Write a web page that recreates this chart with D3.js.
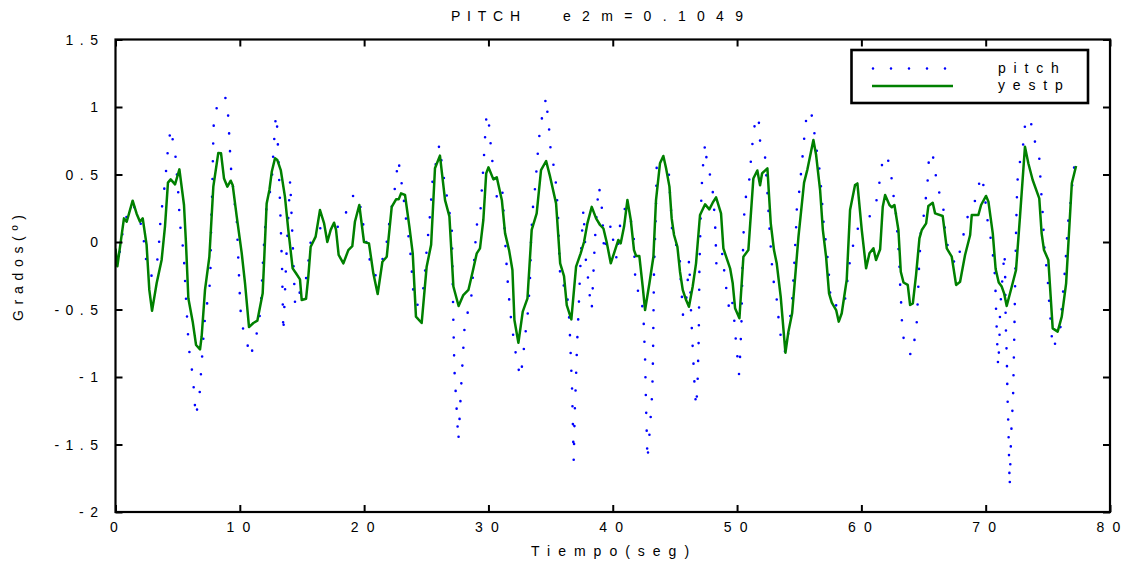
<!DOCTYPE html>
<html>
<head>
<meta charset="utf-8">
<script src="https://cdn.jsdelivr.net/npm/d3@7/dist/d3.min.js"></script>
<style>
  html, body { margin: 0; padding: 0; background: #fff; }
  svg text { font-family: "Liberation Sans", Arial, sans-serif; fill: #000; white-space: pre; }
</style>
</head>
<body>
<svg id="chart" width="1131" height="565"></svg>
<script>
// ---------------- data ----------------
const xTicks = [0, 10, 20, 30, 40, 50, 60, 70, 80];
const yTicks = [-2, -1.5, -1, -0.5, 0, 0.5, 1, 1.5];
const xTickLabels = ["0", "10", "20", "30", "40", "50", "60", "70", "80"];
const yTickLabels = ["-2", "-1.5", "-1", "-0.5", "0", "0.5", "1", "1.5"];
const seriesNames = ["pitch", "yestp"];
const titleParts = ["PITCH", "e2m=0.1049"];
const xLabel = "Tiempo(seg)";
const yLabel = "Grados(º)";

const pitchT = [0,0.2,0.7,1.4,1.9,2.16,2.35,2.51,2.9,3.23,3.45,3.63,3.98,4.22,4.44,4.81,5.03,5.19,5.38,5.51,5.65,5.81,5.89,6.1,6.26,6.45,6.74,6.93,7.12,7.25,7.52,7.63,7.7,7.79,7.87,7.92,8.22,8.6,8.81,9.05,9.13,9.27,9.43,9.56,9.75,9.86,10.04,10.15,10.55,10.82,11.2,11.49,11.68,11.89,12.08,12.16,12.54,12.7,12.9,12.97,13.1,13.25,13.4,13.5,13.75,14.05,14.25,14.45,14.7,15.2,15.55,15.7,16.4,17.4,18.0,18.6,19.2,19.8,19.95,20.2,20.47,20.9,21.36,21.76,21.95,22.14,22.41,22.57,22.76,22.94,23.16,23.29,23.5,23.69,23.91,24.0,24.25,24.5,24.82,25.03,25.3,25.51,25.79,26.05,26.37,26.83,27.05,27.1,27.18,27.26,27.42,27.58,27.66,27.8,27.96,28.1,28.3,28.57,28.68,28.79,28.9,29.0,29.11,29.32,29.4,29.59,29.75,29.85,30.07,30.18,30.32,30.67,31.1,31.26,31.41,31.6,31.87,32.09,32.27,32.57,32.76,32.89,33.05,33.21,33.29,33.37,33.43,33.61,33.78,33.88,33.99,34.12,34.34,34.64,34.74,34.88,34.98,35.22,35.41,35.52,35.6,35.71,35.81,36.3,36.38,36.51,36.62,36.73,36.78,36.86,36.94,37.04,37.13,37.26,37.37,37.5,37.64,37.72,37.85,38.04,38.17,38.31,38.44,38.57,38.76,38.88,39.09,39.25,39.3,39.6,39.87,40.05,40.32,40.51,40.64,41.04,41.45,41.69,41.79,41.85,42.28,42.49,42.6,42.68,42.79,42.89,43.0,43.18,43.24,43.27,43.32,43.46,43.54,43.7,44.2,44.5,44.55,44.66,44.8,45.07,45.28,45.41,45.47,45.57,45.65,45.95,46.14,46.22,46.3,46.43,46.57,46.7,46.81,46.92,46.97,47.08,47.19,47.29,47.43,47.56,47.88,48.09,48.26,48.34,48.55,48.82,49.0,49.17,49.38,49.6,49.78,49.89,50.02,50.16,50.24,50.35,50.43,50.56,50.62,50.94,51.18,51.32,51.53,51.77,51.85,52.25,52.44,52.6,52.79,52.92,53.17,53.3,53.46,53.67,53.85,54.15,54.45,54.61,54.75,54.8,54.99,55.13,55.26,55.39,55.5,55.93,56.17,56.33,56.57,56.71,56.82,56.9,57.05,57.22,57.35,57.54,57.9,58.2,58.63,58.82,58.95,59.22,59.49,59.84,60.46,61.1,61.34,61.56,61.75,61.9,62.15,62.42,62.58,62.77,62.98,63.06,63.11,63.19,63.25,63.33,63.7,64.05,64.32,64.48,64.53,64.59,64.64,64.72,64.78,65.04,65.2,65.34,65.42,65.7,65.93,66.12,66.55,66.68,66.74,67.08,67.48,67.72,67.98,68.28,68.6,69.0,69.36,69.55,69.73,69.9,70.08,70.22,70.49,70.62,70.76,70.84,70.94,71.0,71.1,71.16,71.32,71.51,71.56,71.61,71.7,71.75,71.83,71.93,72.05,72.2,72.3,72.38,72.45,72.5,72.6,72.93,73.09,73.2,73.4,73.63,73.9,74.3,74.38,74.46,74.56,74.64,74.69,74.83,74.99,75.07,75.18,75.39,75.98,76.17,76.31,76.41,76.52,76.57,76.92,77.0,77.24];
const pitchV = [-0.12,-0.16,0.15,0.28,0.18,0.09,-0.04,-0.17,-0.25,-0.207,-0.084,0.178,0.435,0.69,0.84,0.654,0.393,0.13,0.0,-0.126,-0.385,-0.647,-0.78,-0.91,-1.04,-1.29,-1.16,-0.9,-0.64,-0.51,-0.385,-0.25,0.14,0.4,0.785,0.916,1.02,1.06,1.084,0.953,0.822,0.563,0.432,0.304,0.175,-0.086,-0.48,-0.607,-0.73,-0.85,-0.75,-0.617,-0.494,-0.096,0.163,0.289,0.405,0.664,0.94,0.92,0.64,0.25,-0.2,-0.67,-0.1,0.46,0.0,-0.47,-0.38,-0.36,-0.12,0.0,0.1,0.12,0.11,0.23,0.36,0.24,0.11,-0.015,-0.14,-0.25,-0.165,-0.04,0.09,0.22,0.35,0.48,0.61,0.48,0.35,0.22,0.09,-0.04,-0.3,-0.43,-0.47,-0.44,-0.32,-0.06,0.2,0.46,0.59,0.72,0.5,0.24,0.11,-0.15,-0.6,-0.94,-1.2,-1.47,-1.34,-1.08,-0.82,-0.6,-0.53,-0.467,-0.336,-0.207,-0.079,0.06,0.158,0.168,0.294,0.553,0.81,0.95,0.854,0.723,0.595,0.336,0.41,0.158,-0.1,-0.36,-0.62,-0.75,-0.88,-1.0,-0.88,-0.75,-0.617,-0.49,-0.356,-0.227,0.04,0.294,0.422,0.553,0.68,0.81,0.94,1.07,0.965,0.835,0.706,0.578,0.452,0.318,0.188,-0.13,-0.326,-0.318,-0.447,-0.578,-0.84,-1.096,-1.3,-1.62,-1.27,-1.02,-0.756,-0.494,-0.23,0.025,0.24,0.1,-0.158,-0.286,-0.417,-0.5,-0.24,0.02,0.284,0.415,0.3,0.047,-0.077,0.057,0.13,0.0,-0.128,0.047,0.175,0.26,0.163,0.04,-0.225,-0.356,-0.368,-0.6,-0.86,-1.22,-1.61,-1.5,-1.37,-1.11,-0.85,-0.59,-0.2,0.188,0.583,0.64,0.6,0.553,0.42,0.294,0.04,-0.02,-0.03,-0.15,-0.28,-0.415,-0.54,-0.4,-0.13,-0.3,-0.523,-0.78,-1.04,-1.22,-1.09,-0.7,-0.2,0.212,0.474,0.6,0.73,0.6,0.474,0.343,0.084,-0.175,-0.18,-0.084,-0.244,-0.373,-0.504,-0.43,-0.585,-0.714,-0.842,-0.98,-0.85,-0.62,-0.2,0.163,0.3,0.417,0.674,0.805,0.933,0.88,0.748,0.632,0.373,0.114,-0.15,-0.28,-0.405,-0.533,-0.664,-0.795,-0.81,-0.66,-0.41,-0.153,0.109,0.237,0.365,0.496,0.625,0.756,0.886,0.978,0.85,0.718,0.59,0.459,0.33,0.2,0.07,-0.06,-0.19,-0.447,-0.48,-0.435,-0.462,-0.338,-0.207,-0.08,0.05,0.126,0.163,0.247,0.373,0.504,0.632,0.645,0.607,0.479,0.348,0.22,-0.04,-0.17,-0.3,-0.435,-0.563,-0.69,-0.807,-0.84,-0.7,-0.573,-0.44,-0.31,-0.18,-0.054,0.077,0.207,0.336,0.464,0.595,0.67,0.533,0.405,0.29,0.163,0.035,-0.067,-0.15,-0.168,-0.04,0.08,0.207,0.274,0.356,0.484,0.484,0.356,0.225,0.096,-0.005,-0.133,-0.262,-0.52,-0.78,-0.92,-0.75,-0.5,-0.3,-0.079,-0.207,-0.6,-0.86,-1.126,-1.385,-1.81,-1.42,-1.16,-0.7,-0.245,0.1,0.3,0.533,0.66,0.78,0.91,0.92,0.89,0.763,0.64,0.508,0.38,0.25,0.12,-0.01,-0.14,-0.27,-0.4,-0.53,-0.79,-0.676,-0.42,-0.294,-0.158,-0.03,0.1,0.36,0.49,0.62];

const yestpT = [0,0.15,0.68,0.9,1.38,1.7,1.97,2.19,2.5,2.72,2.94,3.31,3.71,3.98,4.22,4.44,4.79,5.14,5.51,5.67,5.86,6.21,6.48,6.8,6.93,7.2,7.55,7.87,8.27,8.49,8.73,9.0,9.27,9.43,9.75,10.15,10.42,10.74,11.09,11.41,11.84,12.16,12.38,12.57,12.83,13.02,13.3,13.63,13.9,14.25,14.52,14.84,14.98,15.33,15.51,15.7,16.1,16.45,16.78,17.04,17.31,17.58,17.74,17.95,18.33,18.73,19.05,19.26,19.61,19.99,20.39,20.74,21.09,21.47,21.82,22.22,22.57,22.78,22.97,23.29,23.64,23.91,24.17,24.63,25.03,25.39,25.7,26.1,26.51,26.86,27.18,27.6,27.98,28.39,28.73,29.06,29.32,29.59,29.82,30.0,30.4,30.67,31.08,31.34,31.66,31.93,32.09,32.41,32.76,33.14,33.48,33.88,34.23,34.64,34.96,35.44,35.77,36.08,36.3,36.67,37.05,37.42,37.69,37.96,38.31,38.66,38.98,39.25,39.51,39.84,40.1,40.45,40.64,40.91,41.18,41.45,41.71,41.88,42.14,42.41,42.6,42.95,43.27,43.48,43.8,44.07,44.29,44.56,44.74,44.93,45.2,45.41,45.63,45.9,46.13,46.43,46.7,47.02,47.43,47.77,48.04,48.31,48.71,48.9,49.12,49.44,49.65,49.84,50.19,50.51,50.91,51.31,51.63,51.85,52.01,52.44,52.71,52.97,53.19,53.51,53.89,54.13,54.43,54.61,54.94,55.39,55.66,56.14,56.36,56.68,56.9,57.16,57.4,57.62,57.97,58.18,58.42,58.82,59.09,59.49,59.68,60.03,60.38,60.65,60.97,61.18,61.51,61.72,61.91,62.26,62.45,62.66,62.98,63.17,63.39,63.73,63.92,64.14,64.4,64.67,64.86,65.21,65.39,65.74,65.93,66.54,66.87,67.27,67.62,67.94,68.34,68.75,68.88,69.41,69.63,70.03,70.22,70.57,70.8,71.05,71.29,71.48,71.69,72.1,72.44,72.76,73.16,73.43,73.78,74.31,74.5,74.69,75.04,75.39,75.79,76.12,76.47,76.93,77.27];
const yestpV = [-0.05,-0.18,0.175,0.15,0.306,0.21,0.15,0.175,-0.02,-0.355,-0.51,-0.306,-0.133,0.114,0.44,0.464,0.427,0.538,0.274,-0.01,-0.417,-0.59,-0.763,-0.795,-0.7,-0.355,-0.11,0.41,0.66,0.657,0.47,0.41,0.454,0.42,0.19,-0.08,-0.306,-0.63,-0.6,-0.583,-0.38,0.286,0.385,0.52,0.62,0.607,0.53,0.336,0.09,-0.195,-0.232,-0.277,-0.43,-0.42,-0.257,-0.035,0.04,0.237,0.138,0.0,0.09,0.143,0.09,-0.096,-0.158,-0.06,-0.03,0.15,0.274,0.0,-0.01,-0.232,-0.385,-0.146,-0.109,0.26,0.316,0.316,0.36,0.348,0.114,-0.084,-0.553,-0.6,-0.183,-0.02,0.546,0.64,0.31,0.19,-0.33,-0.474,-0.393,-0.355,-0.22,-0.084,-0.047,0.163,0.508,0.553,0.464,0.48,0.31,0.064,-0.06,-0.207,-0.578,-0.746,-0.516,-0.417,0.09,0.212,0.533,0.6,0.484,0.286,-0.158,-0.252,-0.467,-0.573,-0.183,-0.084,0.0,0.138,0.26,0.175,0.126,0.1,0.0,-0.158,-0.084,0.015,-0.01,0.114,0.311,0.163,-0.06,-0.104,-0.104,-0.33,-0.504,-0.306,-0.109,0.311,0.583,0.637,0.546,0.41,0.175,0.052,-0.035,-0.22,-0.355,-0.43,-0.48,-0.33,-0.158,0.2,0.279,0.242,0.291,0.331,0.212,-0.047,-0.109,-0.195,-0.306,-0.49,-0.565,-0.109,-0.06,0.47,0.53,0.42,0.508,0.546,0.138,-0.06,-0.158,-0.405,-0.82,-0.664,-0.528,-0.33,0.04,0.44,0.538,0.756,0.644,0.385,0.09,-0.109,-0.38,-0.449,-0.504,-0.59,-0.528,-0.281,0.237,0.422,0.434,0.089,-0.195,-0.084,-0.047,-0.133,-0.054,0.262,0.348,0.274,0.257,0.274,0.089,-0.22,-0.3,-0.318,-0.467,-0.455,-0.244,0.027,0.089,0.138,0.267,0.291,0.212,0.193,-0.047,-0.109,-0.318,-0.294,-0.096,0.052,0.2,0.2,0.274,0.341,0.299,0.064,-0.2,-0.3,-0.33,-0.38,-0.474,-0.33,-0.207,0.188,0.706,0.583,0.459,0.323,0.064,-0.059,-0.133,-0.64,-0.664,-0.553,-0.306,0.435,0.563];

// ---------------- layout ----------------
const plot = { left: 115.5, right: 1110, top: 39.5, bottom: 512 };
const svg = d3.select("#chart");

const x = d3.scaleLinear().domain([0, 80]).range([plot.left, plot.right]);
const y = d3.scaleLinear().domain([-2, 1.5]).range([plot.bottom, plot.top]);

const fontSize = 14;

svg.append("defs").append("clipPath").attr("id", "clip")
  .append("rect").attr("x", plot.left).attr("y", plot.top)
  .attr("width", plot.right - plot.left).attr("height", plot.bottom - plot.top);

// series
const pitchData = pitchT.map((t, i) => [t, pitchV[i]]);
const yestpData = yestpT.map((t, i) => [t, yestpV[i]]);
const line = d3.line().x(d => x(d[0])).y(d => y(d[1]));

const g = svg.append("g").attr("clip-path", "url(#clip)");
g.append("path").datum(pitchData).attr("d", line)
  .attr("fill", "none").attr("stroke", "#0000ff").attr("stroke-width", 2.6)
  .attr("stroke-linecap", "round").attr("stroke-dasharray", "0 17.8");
g.append("path").datum(yestpData).attr("d", line)
  .attr("fill", "none").attr("stroke", "#008000").attr("stroke-width", 2.5)
  .attr("stroke-linejoin", "round");

// axes (ticks inward on all four sides)
const tickLen = 7;
const axB = svg.append("g").attr("transform", `translate(0,${plot.bottom})`)
  .call(d3.axisBottom(x).tickValues(xTicks).tickSize(-tickLen).tickFormat(""));
const axT = svg.append("g").attr("transform", `translate(0,${plot.top})`)
  .call(d3.axisTop(x).tickValues(xTicks).tickSize(-tickLen).tickFormat(""));
const axL = svg.append("g").attr("transform", `translate(${plot.left},0)`)
  .call(d3.axisLeft(y).tickValues(yTicks).tickSize(-tickLen).tickFormat(""));
const axR = svg.append("g").attr("transform", `translate(${plot.right},0)`)
  .call(d3.axisRight(y).tickValues(yTicks).tickSize(-tickLen).tickFormat(""));
[axB, axT, axL, axR].forEach(a => {
  a.select(".domain").remove();
  a.selectAll(".tick line").attr("stroke", "#000").attr("stroke-width", 2);
});
svg.append("rect").attr("x", plot.left).attr("y", plot.top)
  .attr("width", plot.right - plot.left).attr("height", plot.bottom - plot.top)
  .attr("fill", "none").attr("stroke", "#000").attr("stroke-width", 2.2);

// tick labels
const xls = 8.2, yls = 6.5;
svg.append("g").selectAll("text").data(xTicks).join("text")
  .attr("x", d => x(d) + xls / 2 - 1.5)
  .attr("y", plot.bottom + 20)
  .attr("text-anchor", "middle")
  .attr("font-size", fontSize).attr("letter-spacing", xls)
  .text((d, i) => xTickLabels[i]);
svg.append("g").selectAll("text").data(yTicks).join("text")
  .attr("x", 98 + yls)
  .attr("y", d => y(d) + 5)
  .attr("text-anchor", "end")
  .attr("font-size", fontSize).attr("letter-spacing", yls)
  .text((d, i) => yTickLabels[i]);

// title and axis labels
const title = svg.append("text").attr("y", 21).attr("font-size", fontSize);
title.append("tspan").attr("x", 451).attr("letter-spacing", 6.75).text(titleParts[0]);
title.append("tspan").attr("x", 563).attr("letter-spacing", 11.3).text(titleParts[1]);

svg.append("text").attr("x", 531).attr("y", 556)
  .attr("font-size", fontSize).attr("letter-spacing", 8)
  .text(xLabel);
svg.append("text").attr("transform", `translate(23,321) rotate(-90)`)
  .attr("font-size", fontSize)
  .attr("textLength", 106).attr("lengthAdjust", "spacing")
  .text(yLabel);

// legend
const lg = svg.append("g");
lg.append("rect").attr("x", 851.5).attr("y", 50).attr("width", 236.5).attr("height", 53)
  .attr("fill", "#fff").attr("stroke", "#000").attr("stroke-width", 2.6);
lg.append("line").attr("x1", 873).attr("x2", 948).attr("y1", 68.5).attr("y2", 68.5)
  .attr("stroke", "#0000ff").attr("stroke-width", 2.6).attr("stroke-linecap", "round")
  .attr("stroke-dasharray", "0 18");
lg.append("line").attr("x1", 872).attr("x2", 953).attr("y1", 86).attr("y2", 86)
  .attr("stroke", "#008000").attr("stroke-width", 2.5);
lg.selectAll("text.lbl").data(seriesNames).join("text").attr("class", "lbl")
  .attr("x", 998).attr("y", (d, i) => 72.5 + i * 17)
  .attr("font-size", fontSize).attr("letter-spacing", 7.8)
  .text(d => d);
</script>
</body>
</html>
